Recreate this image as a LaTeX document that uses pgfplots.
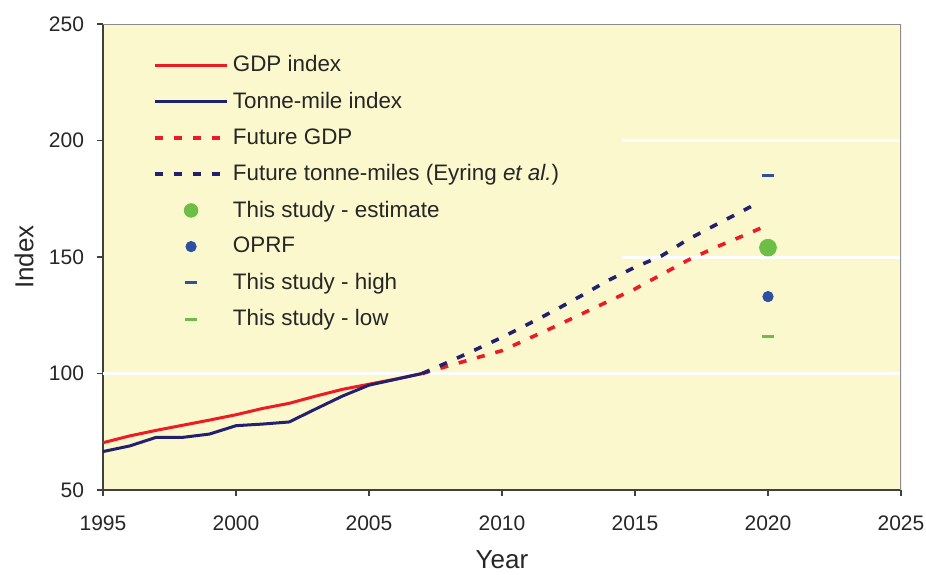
\documentclass[border=0pt]{standalone}
\usepackage{pgfplots}
\pgfplotsset{compat=1.18}
\usepackage{fontspec}
\setmainfont{Liberation Sans}
\definecolor{bg}{RGB}{251,248,206}
\definecolor{gdpred}{RGB}{237,28,36}
\definecolor{navy}{RGB}{35,33,110}
\definecolor{oprf}{RGB}{45,80,162}
\definecolor{grn}{RGB}{108,190,69}
\begin{document}
\begin{tikzpicture}
\begin{axis}[
  scale only axis,
  width=399pt, height=233pt,
  xmin=1995, xmax=2025, ymin=50, ymax=250,
  xtick={1995,2000,...,2025}, ytick={50,100,...,250},
  axis lines*=left,
  axis line style={draw=black!75, line width=0.8pt, -},
  tick align=outside,
  major tick length=3pt,
  tick style={black!75, line width=0.8pt},
  axis background/.style={fill=bg},
  /pgf/number format/assume math mode=true,
  /pgf/number format/1000 sep={},
  ticklabel style={font=\fontsize{10.5}{12}\selectfont, text=black!85},
  xticklabel style={yshift=-6.5pt, inner xsep=0pt},
  yticklabel style={xshift=-3pt},
  xlabel={Year}, ylabel={Index},
  label style={font=\fontsize{13}{15}\selectfont, text=black!85, inner sep=0pt},
  xlabel style={at={(axis description cs:0.5,-0.149)}, anchor=center},
  ylabel style={at={(axis description cs:-0.099,0.5)}, anchor=center},
  legend style={draw=none, fill=none, at={(rel axis cs:0.055,0.95)}, anchor=north west,
    font=\fontsize{11.2}{13}\selectfont, row sep=4.6pt, text=black!85},
  legend cell align=left,
  legend image code/.code={\draw[mark repeat=2,mark phase=2,#1] plot coordinates {(0pt,0pt) (18pt,0pt) (36pt,0pt)};},
]
\draw[white, line width=1.5pt] (axis cs:1995,100) -- (axis cs:2025,100);
\draw[white, line width=1.5pt] (axis cs:2014.5,150) -- (axis cs:2025,150);
\draw[white, line width=1.5pt] (axis cs:2014.5,200) -- (axis cs:2025,200);
\draw[black!45, line width=0.8pt] (rel axis cs:0,1) -- (rel axis cs:1,1) -- (rel axis cs:1,0);

\addplot[gdpred, line width=1.5pt, no marks] coordinates {
 (1995,70.3) (1996,73.2) (1997,75.6) (1998,77.8) (1999,80.0) (2000,82.3) (2001,85.0)
 (2002,87.2) (2003,90.3) (2004,93.2) (2005,95.4) (2006,97.6) (2007,100)};
\addlegendentry{GDP index}
\addplot[navy, line width=1.5pt, no marks] coordinates {
 (1995,66.5) (1996,68.9) (1997,72.6) (1998,72.6) (1999,74.0) (2000,77.6) (2001,78.3)
 (2002,79.2) (2003,84.8) (2004,90.3) (2005,95.0) (2006,97.5) (2007,100)};
\addlegendentry{Tonne-mile index}
\addplot[gdpred, line width=1.8pt, no marks, dash pattern=on 4pt off 5.5pt] coordinates {
 (2007,100) (2008,103.3) (2009,106.6) (2010,109.8) (2011,115.0) (2012,120.2) (2013,125.6)
 (2014,131.0) (2015,136.3) (2016,142.5) (2017,148.7) (2018,154.0) (2019,158.8) (2020,163.7)};
\addlegendentry{Future GDP}
\addplot[navy, line width=1.8pt, no marks, dash pattern=on 4pt off 5.5pt] coordinates {
 (2007,100) (2008,105.0) (2009,110.2) (2010,115.5) (2011,121.3) (2012,127.2) (2013,133.5)
 (2014,140.0) (2015,145.6) (2016,150.5) (2017,157.6) (2018,163.6) (2019,169.5) (2019.5,172.5)};
\addlegendentry{Future tonne-miles (Eyring \textit{et al.})}
\addplot[only marks, mark=*, mark size=4.2pt, grn, mark options={draw=none, fill=grn},
  legend image post style={mark size=3.4pt}] coordinates {(2020,154)};
\addlegendentry{This study - estimate}
\addplot[only marks, mark=*, mark size=2.6pt, oprf, mark options={draw=none, fill=oprf}] coordinates {(2020,133)};
\addlegendentry{OPRF}
\addplot[only marks, mark=-, mark size=3pt, oprf, mark options={line width=1.6pt}] coordinates {(2020,185)};
\addlegendentry{This study - high}
\addplot[only marks, mark=-, mark size=3pt, grn, mark options={line width=1.6pt}] coordinates {(2020,116)};
\addlegendentry{This study - low}
\end{axis}
\path (-51.5pt,-42pt) rectangle (411.5pt,245pt);
\end{tikzpicture}
\end{document}
